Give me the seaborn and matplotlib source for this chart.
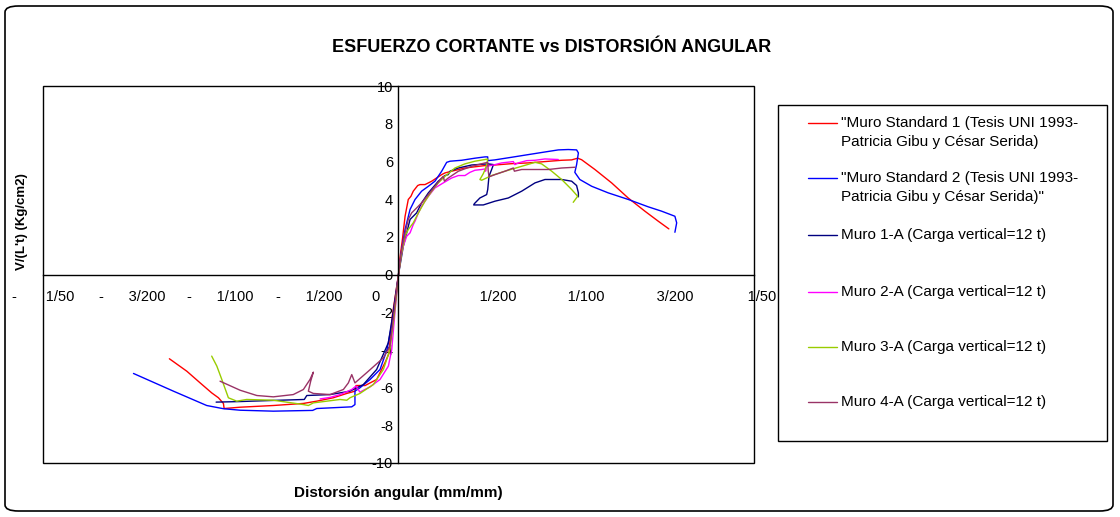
import numpy as np
import pandas as pd
import matplotlib
matplotlib.use("Agg")
import matplotlib.pyplot as plt
import seaborn as sns
from matplotlib.patches import FancyBboxPatch, Rectangle
from matplotlib.lines import Line2D

# Muro Standard 1 (red)
std1_x = [-0.01289, -0.01191, -0.01116, -0.01051, -0.01013, -0.00985, -0.00981, -0.00891, -0.00704,
          -0.00535, -0.0046, -0.00367, -0.00291, -0.00245, -0.00239, -0.00188, -0.00123, -0.00076,
          -0.00054, -0.00035, 0.0, 0.000084, 0.00022, 0.00037, 0.00055, 0.0007, 0.00083, 0.00108,
          0.00121, 0.00149, 0.00187, 0.00243, 0.00262, 0.00299, 0.00374, 0.00487, 0.00543, 0.00637,
          0.0073, 0.00824, 0.00918, 0.00974, 0.01008, 0.0103, 0.01105, 0.01199, 0.01292, 0.01386,
          0.01461, 0.01521]
std1_y = [-4.47, -5.13, -5.75, -6.28, -6.54, -6.84, -7.11, -7.04, -6.95, -6.84, -6.72, -6.54, -6.31,
          -6.19, -5.89, -5.89, -5.57, -4.68, -4.2, -2.2, 0.0, 0.9, 1.86, 3.09, 3.98, 4.15, 4.42, 4.72,
          4.77, 4.77, 4.95, 5.30, 5.39, 5.48, 5.65, 5.78, 5.81, 5.88, 5.92, 5.99, 6.06, 6.08, 6.17,
          6.09, 5.57, 4.86, 4.06, 3.36, 2.83, 2.42]

# Muro Standard 2 (blue)
std2_x = [-0.01491, -0.01266, -0.01079, -0.00985, -0.00891, -0.00704, -0.00483, -0.0046, -0.00263,
          -0.00245, -0.00245, -0.00217, -0.0016, -0.00104, -0.00065, -0.00025, 0.0, 0.00018, 0.00037,
          0.00065, 0.00093, 0.0013, 0.00168, 0.00205, 0.00243, 0.00271, 0.0029, 0.00355, 0.0043,
          0.00487, 0.00502, 0.00502, 0.00542, 0.00637, 0.0073, 0.00824, 0.00899, 0.00955, 0.01002,
          0.01012, 0.01002, 0.00992, 0.0102, 0.01087, 0.0118, 0.01293, 0.01405, 0.0148, 0.01555,
          0.01565, 0.01555]
std2_y = [-5.25, -6.19, -6.95, -7.12, -7.20, -7.25, -7.21, -7.11, -7.02, -6.90, -6.19, -6.01, -5.57,
          -5.04, -4.0, -2.0, 0.0, 1.33, 2.39, 3.45, 3.98, 4.42, 4.68, 4.95, 5.48, 5.95, 6.01, 6.06,
          6.17, 6.24, 6.24, 6.04, 6.08, 6.22, 6.36, 6.50, 6.61, 6.63, 6.61, 6.45, 5.83, 5.42, 5.04,
          4.68, 4.33, 3.98, 3.59, 3.36, 3.09, 2.74, 2.24]

# Muro 1-A (navy)
m1_x = [-0.01026, -0.00891, -0.00704, -0.0053, -0.00516, -0.00385, -0.00273, -0.00198, -0.00123,
        -0.00057, -0.0003, 0.0, 0.00027, 0.00046, 0.00065, 0.00083, 0.00102, 0.0013, 0.00168,
        0.00224, 0.00262, 0.0028, 0.0029, 0.00337, 0.00412, 0.00505, 0.00534, 0.00524, 0.00509,
        0.00502, 0.00496, 0.00458, 0.00427, 0.00423, 0.00477, 0.00543, 0.00618, 0.00693, 0.00768,
        0.00824, 0.00918, 0.00974, 0.01002, 0.01012, 0.01012]
m1_y = [-6.77, -6.74, -6.68, -6.63, -6.42, -6.37, -6.19, -5.84, -5.04, -3.62, -2.0, 0.0, 1.50, 2.21,
        2.92, 3.09, 3.27, 3.80, 4.33, 4.95, 5.25, 5.30, 5.48, 5.65, 5.81, 5.87, 5.83, 5.57, 5.21,
        4.51, 4.24, 4.06, 3.76, 3.69, 3.69, 3.89, 4.06, 4.42, 4.86, 5.04, 5.04, 4.95, 4.72, 4.33, 4.12]

# Muro 2-A (magenta)
m2_x = [-0.00441, -0.00385, -0.00329, -0.00263, -0.00239, -0.00217, -0.0016, -0.00104, -0.00057,
        -0.00038, -0.0002, 0.0, 0.00014, 0.00027, 0.00046, 0.00065, 0.00083, 0.00093, 0.00112,
        0.0013, 0.00168, 0.00205, 0.00252, 0.00299, 0.00337, 0.00374, 0.00402, 0.0043, 0.00468,
        0.00487, 0.0049, 0.00496, 0.00543, 0.0058, 0.00646, 0.00655, 0.00674, 0.00721, 0.00768,
        0.00824, 0.00899]
m2_y = [-6.60, -6.52, -6.37, -6.10, -5.92, -6.24, -5.96, -5.57, -4.86, -3.98, -2.0, 0.0, 0.97, 1.50,
        2.03, 2.21, 2.65, 2.83, 3.27, 3.62, 4.15, 4.59, 4.86, 5.12, 5.25, 5.25, 5.42, 5.53, 5.57,
        5.60, 5.48, 5.74, 5.83, 5.92, 5.99, 5.83, 5.92, 6.04, 6.06, 6.13, 6.10]

# Muro 3-A (yellow green)
m3_x = [-0.01051, -0.01022, -0.00994, -0.00957, -0.0091, -0.00854, -0.00704, -0.00535, -0.00507,
        -0.00479, -0.00329, -0.00291, -0.00273, -0.00217, -0.00142, -0.00085, -0.00048, -0.00022,
        0.0, 0.00018, 0.00037, 0.00055, 0.00083, 0.00112, 0.00149, 0.00187, 0.00224, 0.00262,
        0.00318, 0.00374, 0.0043, 0.00487, 0.00502, 0.00496, 0.00487, 0.00477, 0.00458, 0.00468,
        0.00524, 0.00599, 0.00693, 0.00768, 0.00805, 0.00862, 0.00918, 0.00974, 0.01008, 0.00983]
m3_y = [-4.33, -4.86, -5.57, -6.54, -6.72, -6.63, -6.67, -6.90, -6.95, -6.81, -6.63, -6.67, -6.54,
        -6.31, -5.84, -5.04, -3.98, -2.0, 0.0, 1.15, 2.03, 2.39, 2.74, 3.27, 3.89, 4.42, 4.86, 5.21,
        5.65, 5.87, 6.01, 6.10, 6.13, 5.83, 5.57, 5.35, 5.04, 5.00, 5.25, 5.48, 5.74, 5.95, 5.87,
        5.48, 5.04, 4.51, 4.15, 3.83]

# Muro 4-A (plum)
m4_x = [-0.01004, -0.00891, -0.00797, -0.00704, -0.00592, -0.00535, -0.00498, -0.00479, -0.00494,
        -0.00507, -0.00479, -0.00385, -0.0031, -0.00282, -0.00263, -0.00245, -0.00179, -0.00085,
        -0.00048, -0.00025, 0.0, 0.00018, 0.00037, 0.00055, 0.00074, 0.00102, 0.0013, 0.00168,
        0.00205, 0.00243, 0.00252, 0.00258, 0.0028, 0.00337, 0.00412, 0.00487, 0.00502, 0.00505,
        0.00509, 0.00543, 0.00599, 0.00646, 0.00652, 0.00693, 0.00768, 0.00843, 0.00918, 0.00993]
m4_y = [-5.66, -6.14, -6.42, -6.49, -6.37, -6.10, -5.57, -5.18, -5.66, -6.19, -6.31, -6.37, -6.10,
        -5.75, -5.31, -5.75, -5.21, -4.42, -3.80, -2.0, 0.0, 1.33, 2.21, 2.92, 3.27, 3.53, 3.80, 4.24,
        4.68, 5.12, 5.21, 4.95, 5.12, 5.48, 5.74, 5.92, 5.95, 5.48, 5.18, 5.30, 5.48, 5.65, 5.48,
        5.57, 5.57, 5.57, 5.65, 5.69]

series_names = ['"Muro Standard 1 (Tesis UNI 1993-\nPatricia Gibu y César Serida)',
                '"Muro Standard 2 (Tesis UNI 1993-\nPatricia Gibu y César Serida)"',
                'Muro 1-A (Carga vertical=12 t)',
                'Muro 2-A (Carga vertical=12 t)',
                'Muro 3-A (Carga vertical=12 t)',
                'Muro 4-A (Carga vertical=12 t)']
series_colors = ['#FF0000', '#0000FF', '#000080', '#FF00FF', '#99CC00', '#993366']
series_data = [(std1_x, std1_y), (std2_x, std2_y), (m1_x, m1_y),
               (m2_x, m2_y), (m3_x, m3_y), (m4_x, m4_y)]

x_ticks = [-0.02, -0.015, -0.01, -0.005, 0.0, 0.005, 0.01, 0.015, 0.02]
x_tick_labels = ['-       1/50', '-      3/200', '-      1/100', '-      1/200', '0           ',
                 '     1/200', '     1/100', '     3/200', '     1/50 ']
y_ticks = list(range(-10, 11, 2))

sns.set_style("white")
plt.rcParams['font.family'] = ['Liberation Sans', 'DejaVu Sans']
plt.rcParams['text.color'] = 'black'

W, H = 1120, 517
fig = plt.figure(figsize=(W / 100, H / 100), dpi=100)
ax = fig.add_axes([43 / W, 1 - 463 / H, (754 - 43) / W, (463 - 86) / H])

for (xs, ys), c in zip(series_data, series_colors):
    df = pd.DataFrame({'x': xs, 'y': ys})
    sns.lineplot(data=df, x='x', y='y', sort=False, estimator=None, color=c, lw=1, ax=ax)

ax.set_xlim(-0.02, 0.02)
ax.set_ylim(-10, 10)
ax.spines['left'].set_position(('data', 0))
ax.spines['bottom'].set_position(('data', 0))
for s in ['top', 'right']:
    ax.spines[s].set_visible(False)
for s in ['left', 'bottom']:
    ax.spines[s].set_color('black')
    ax.spines[s].set_linewidth(1)
ax.add_patch(Rectangle((0, 0), 1, 1, transform=ax.transAxes, fill=False,
                       ec='black', lw=1, clip_on=False))

ax.set_xticks(x_ticks)
ax.set_xticklabels(x_tick_labels)
ax.set_yticks(y_ticks)
ax.set_yticklabels([str(v) for v in y_ticks])
ax.tick_params(axis='x', direction='out', length=3.5, width=1, pad=8, labelsize=10.5,
               colors='black', labelcolor='black')
ax.tick_params(axis='y', direction='out', length=3, width=1, pad=1, labelsize=10.5,
               colors='black', labelcolor='black')
ax.set_xlabel('')
ax.set_ylabel('')

# axis titles
fig.text(398 / W, 1 - 493 / H, 'Distorsión angular (mm/mm)', ha='center', va='center',
         fontsize=11, fontweight='bold', color='black')
fig.text(22 / W, 1 - 222 / H, "V/(L't) (Kg/cm2)", ha='center', va='center', rotation=90,
         fontsize=9.5, fontweight='bold', color='black')
fig.text(552 / W, 1 - 47 / H, 'ESFUERZO CORTANTE vs DISTORSIÓN ANGULAR', ha='center', va='center',
         fontsize=13, fontweight='bold', color='black')

# legend box
fig.patches.append(Rectangle((778 / W, 1 - 441 / H), (1107 - 778) / W, (441 - 105) / H,
                             transform=fig.transFigure, fill=False, ec='black', lw=1))
entry_y = [123, 178, 235, 292, 347, 402]
for name, c, ey in zip(series_names, series_colors, entry_y):
    fig.lines.append(Line2D([808 / W, 837 / W], [1 - ey / H, 1 - ey / H],
                            transform=fig.transFigure, color=c, lw=1))
    for i, line in enumerate(name.split('\n')):
        fig.text(841 / W, 1 - (ey + i * 19) / H, line, ha='left', va='center', fontsize=11,
                 color='black')

# outer rounded border
fig.patches.append(FancyBboxPatch((5 / W, 6 / H), (1113 - 5) / W, (511 - 6) / H,
                                  boxstyle='round,pad=0,rounding_size=0.012',
                                  transform=fig.transFigure, fill=False, ec='black', lw=1.2))

fig.savefig('out.png', dpi=100)
